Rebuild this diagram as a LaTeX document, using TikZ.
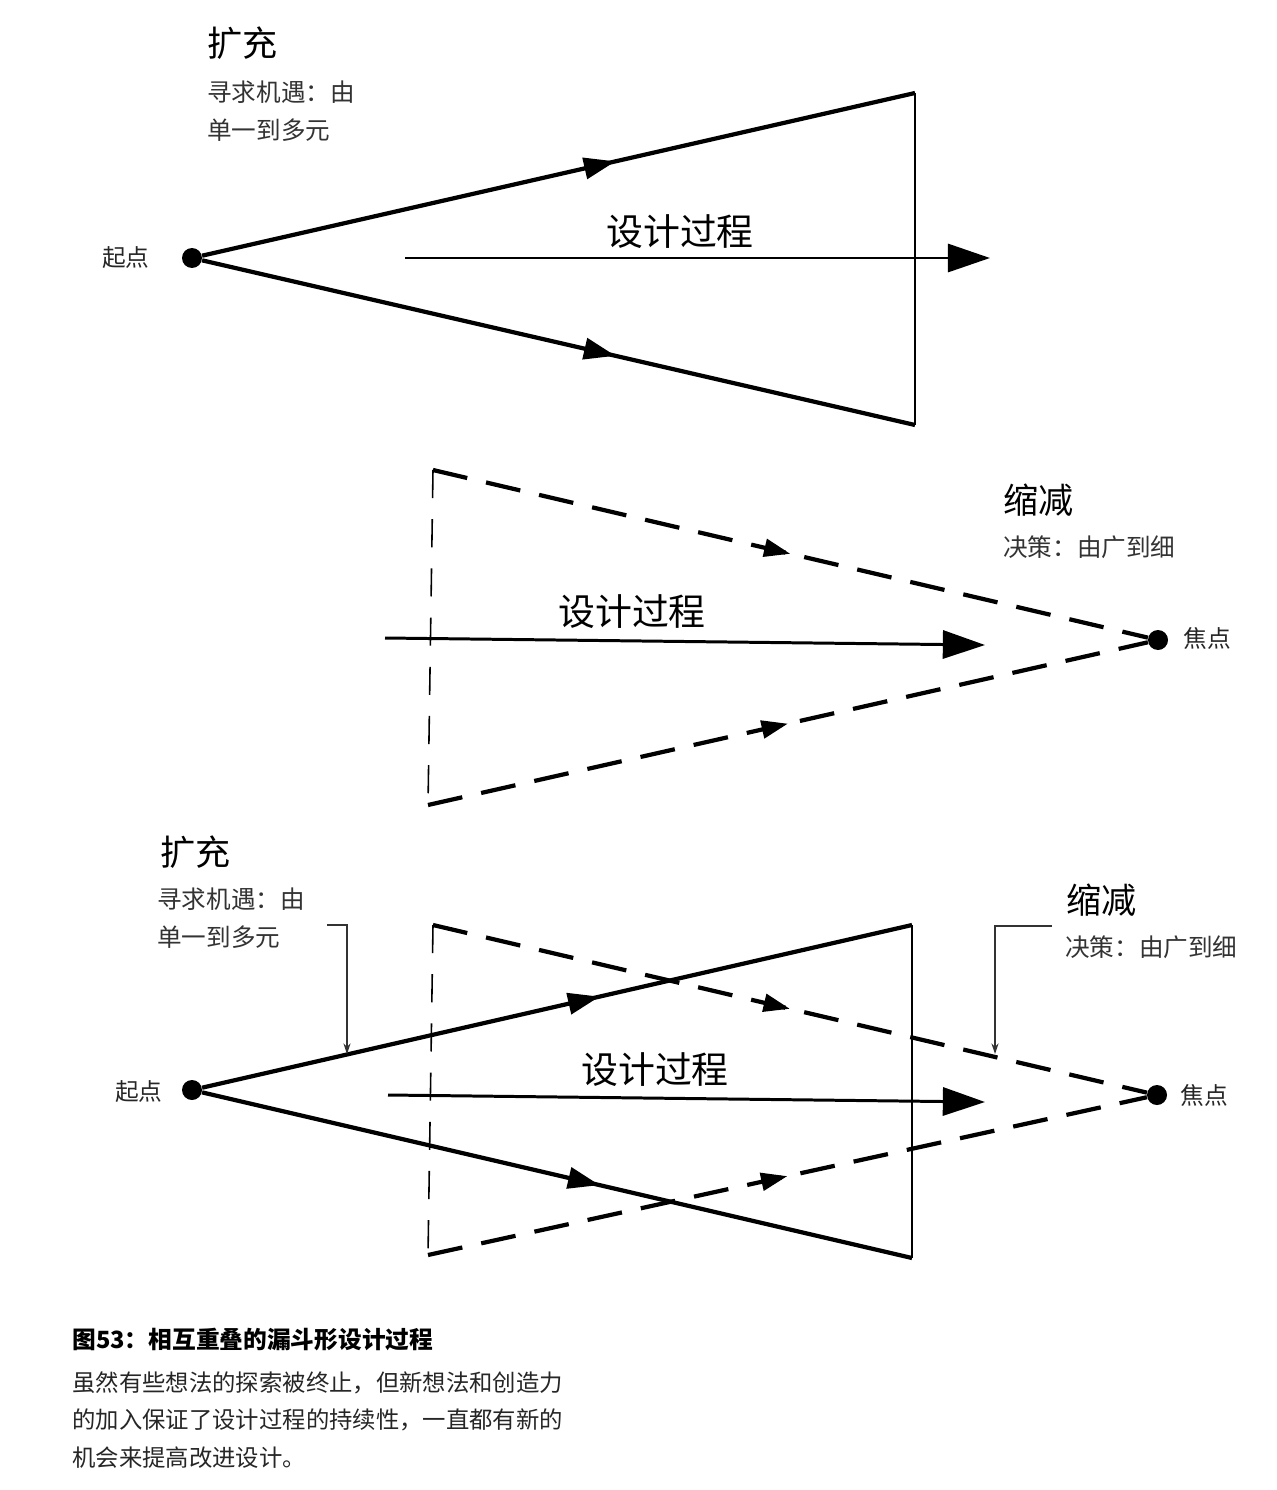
\documentclass[tikz,border=0pt]{standalone}
\usepackage{fontspec}
\newfontfamily\cjk{Noto Sans CJK SC}
\usetikzlibrary{arrows.meta,positioning,decorations.markings}

\begin{document}
\begin{tikzpicture}[x=0.02cm,y=-0.02cm,
    every node/.style={font=\cjk},
    dot/.style={circle,fill=black,inner sep=0pt,minimum size=0.4cm},
    funnel/.style={line width=2.4pt},
    dashfunnel/.style={line width=2.4pt,dash pattern=on 20pt off 11pt},
    edge/.style={line width=0.9pt},
    dashedge/.style={line width=0.9pt,dash pattern=on 16pt off 12pt},
    process/.style={line width=1.7pt,-{Triangle[length=24pt,width=16pt]}},
    callout/.style={line width=0.6pt,draw=black!80,-{Stealth[length=6pt,width=4pt]}},
    midarrow/.style={postaction={decorate,decoration={markings,
        mark=at position #1 with {\arrow{Triangle[length=18pt,width=12pt]}}}}},
    dashmid/.style={postaction={decorate,decoration={markings,
        mark=at position #1 with {\arrow{Triangle[length=15pt,width=10pt]}}}}},
    heading/.style={font=\cjk\fontsize{20}{22}\selectfont,anchor=west,inner sep=0pt},
    note/.style={font=\cjk\fontsize{14}{21.5}\selectfont,text=black!80,align=left,anchor=west,inner sep=0pt},
    point/.style={font=\cjk\fontsize{13.5}{16}\selectfont,text=black!85,inner sep=0pt},
    proclabel/.style={font=\cjk\fontsize{21}{24}\selectfont,inner sep=0pt}
]
\useasboundingbox (0,0) rectangle (1276,1490);

% expansion funnel
\node[dot] (start1) at (192,258) {};
\node[point,anchor=east] (startlbl1) at (150,258) {起点};
\coordinate (top1) at (915,93);
\coordinate (bot1) at (915,425);
\draw[funnel,midarrow=0.58] (start1) -- (top1);
\draw[funnel,midarrow=0.58] (start1) -- (bot1);
\draw[edge] (top1) -- (bot1);
\coordinate (in1) at (405,258);
\coordinate (out1) at (990,258);
\draw[process] (in1) -- (out1);
\node[proclabel] (proc1) at (680,232) {设计过程};
\node[heading] (exp1) at (207,43) {扩充};
\node[note] (expnote1) at (207,111) {寻求机遇：由\\单一到多元};

% reduction funnel
\node[dot] (focus2) at (1158,640) {};
\node[point,anchor=west] (focuslbl2) at (1183,638) {焦点};
\coordinate (top2) at (433,470);
\coordinate (bot2) at (428,805);
\draw[dashedge] (top2) -- (bot2);
\draw[dashfunnel,dashmid=0.5] (top2) -- (focus2);
\draw[dashfunnel,dashmid=0.5] (bot2) -- (focus2);
\coordinate (in2) at (385,638);
\coordinate (out2) at (985,645);
\draw[process] (in2) -- (out2);
\node[proclabel] (proc2) at (632,612) {设计过程};
\node[heading] (red2) at (1003,500) {缩减};
\node[note] (rednote2) at (1003,547) {决策：由广到细};

% overlapping funnels
\node[dot] (start3) at (192,1090) {};
\node[point,anchor=east] (startlbl3) at (163,1092) {起点};
\node[dot] (focus3) at (1157,1095) {};
\node[point,anchor=west] (focuslbl3) at (1180,1095) {焦点};
\coordinate (top3) at (912,925);
\coordinate (bot3) at (912,1258);
\coordinate (dtop3) at (433,925);
\coordinate (dbot3) at (428,1255);
\draw[funnel,midarrow=0.56] (start3) -- (top3);
\draw[funnel,midarrow=0.56] (start3) -- (bot3);
\draw[edge] (top3) -- (bot3);
\draw[dashedge] (dtop3) -- (dbot3);
\draw[dashfunnel,dashmid=0.5] (dtop3) -- (focus3);
\draw[dashfunnel,dashmid=0.5] (dbot3) -- (focus3);
\coordinate (in3) at (388,1095);
\coordinate (out3) at (985,1102);
\draw[process] (in3) -- (out3);
\node[proclabel] (proc3) at (655,1070) {设计过程};
\node[heading] (exp3) at (160,852) {扩充};
\node[note] (expnote3) at (157,918) {寻求机遇：由\\单一到多元};
\node[heading] (red3) at (1066,900) {缩减};
\node[note] (rednote3) at (1065,947) {决策：由广到细};
\coordinate (expfrom) at (327,925);
\coordinate (exptip) at (347,1054);
\draw[callout] (expfrom) -| (exptip);
\coordinate (redfrom) at (1052,926);
\coordinate (redtip) at (995,1054);
\draw[callout] (redfrom) -| (redtip);

% caption
\node[font=\cjk\bfseries\fontsize{13.5}{16}\selectfont,anchor=west,inner sep=0pt] (captitle) at (72,1340) {图53：相互重叠的漏斗形设计过程};
\node[font=\cjk\fontsize{13.3}{21.5}\selectfont,anchor=north west,align=left,inner sep=0pt,text=black!85] (capbody) at (72,1371) {虽然有些想法的探索被终止，但新想法和创造力\\的加入保证了设计过程的持续性，一直都有新的\\机会来提高改进设计。};
\end{tikzpicture}
\end{document}
